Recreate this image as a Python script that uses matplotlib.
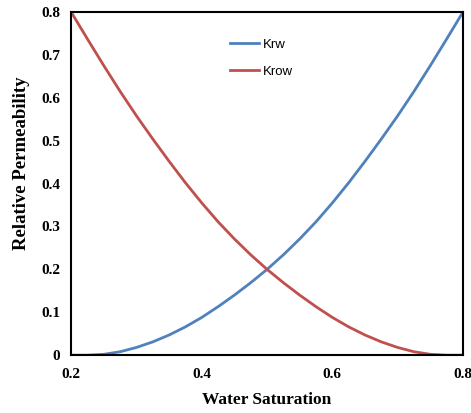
import matplotlib
matplotlib.use('Agg')
import matplotlib.pyplot as plt

# Saturacao de agua e permeabilidades relativas
sw = [0.200, 0.225, 0.250, 0.275, 0.300, 0.325, 0.350, 0.375, 0.400, 0.425,
      0.450, 0.475, 0.500, 0.525, 0.550, 0.575, 0.600, 0.625, 0.650, 0.675,
      0.700, 0.725, 0.750, 0.775, 0.800]
krw = [0.0, 0.0, 0.002, 0.008, 0.018, 0.031, 0.047, 0.066, 0.088, 0.113,
       0.140, 0.169, 0.200, 0.234, 0.271, 0.311, 0.355, 0.402, 0.452, 0.504,
       0.558, 0.615, 0.675, 0.737, 0.800]
krow = [0.800, 0.737, 0.675, 0.615, 0.558, 0.504, 0.452, 0.402, 0.355, 0.311,
        0.271, 0.234, 0.200, 0.169, 0.140, 0.113, 0.088, 0.066, 0.047, 0.031,
        0.018, 0.008, 0.002, 0.0, 0.0]

x_ticks = [0.2, 0.4, 0.6, 0.8]
y_ticks = [0, 0.1, 0.2, 0.3, 0.4, 0.5, 0.6, 0.7, 0.8]
y_tick_labels = ['0', '0.1', '0.2', '0.3', '0.4', '0.5', '0.6', '0.7', '0.8']

serif = 'Liberation Serif'

fig = plt.figure(figsize=(4.71, 4.13), dpi=100)
ax = fig.add_axes([0.151, 0.140, 0.832, 0.831])

ax.plot(sw, krw, color='#4F81BD', linewidth=2.0, label='Krw')
ax.plot(sw, krow, color='#C0504D', linewidth=2.0, label='Krow')

ax.set_xlim(0.2, 0.8)
ax.set_ylim(0, 0.8)
ax.set_xticks(x_ticks)
ax.set_xticklabels([f'{v:.1f}' for v in x_ticks], fontfamily=serif, fontweight='bold', fontsize=11)
ax.set_yticks(y_ticks)
ax.set_yticklabels(y_tick_labels, fontfamily=serif, fontweight='bold', fontsize=11)
ax.tick_params(axis='both', length=0)
ax.tick_params(axis='x', pad=9)
ax.tick_params(axis='y', pad=8)

for s in ax.spines.values():
    s.set_linewidth(1.5)
    s.set_color('black')

ax.set_xlabel('Water Saturation', fontfamily=serif, fontweight='bold', fontsize=12.5, labelpad=8)
ax.set_ylabel('Relative Permeability', fontfamily=serif, fontweight='bold', fontsize=13.5)
ax.yaxis.set_label_coords(-0.105, 0.56)

leg = ax.legend(loc='center left', bbox_to_anchor=(0.375, 0.865), frameon=False,
                prop={'family': 'Liberation Sans', 'size': 9.5}, handlelength=2.2,
                handletextpad=0.3, labelspacing=1.1)

fig.savefig('out.png', dpi=100)
